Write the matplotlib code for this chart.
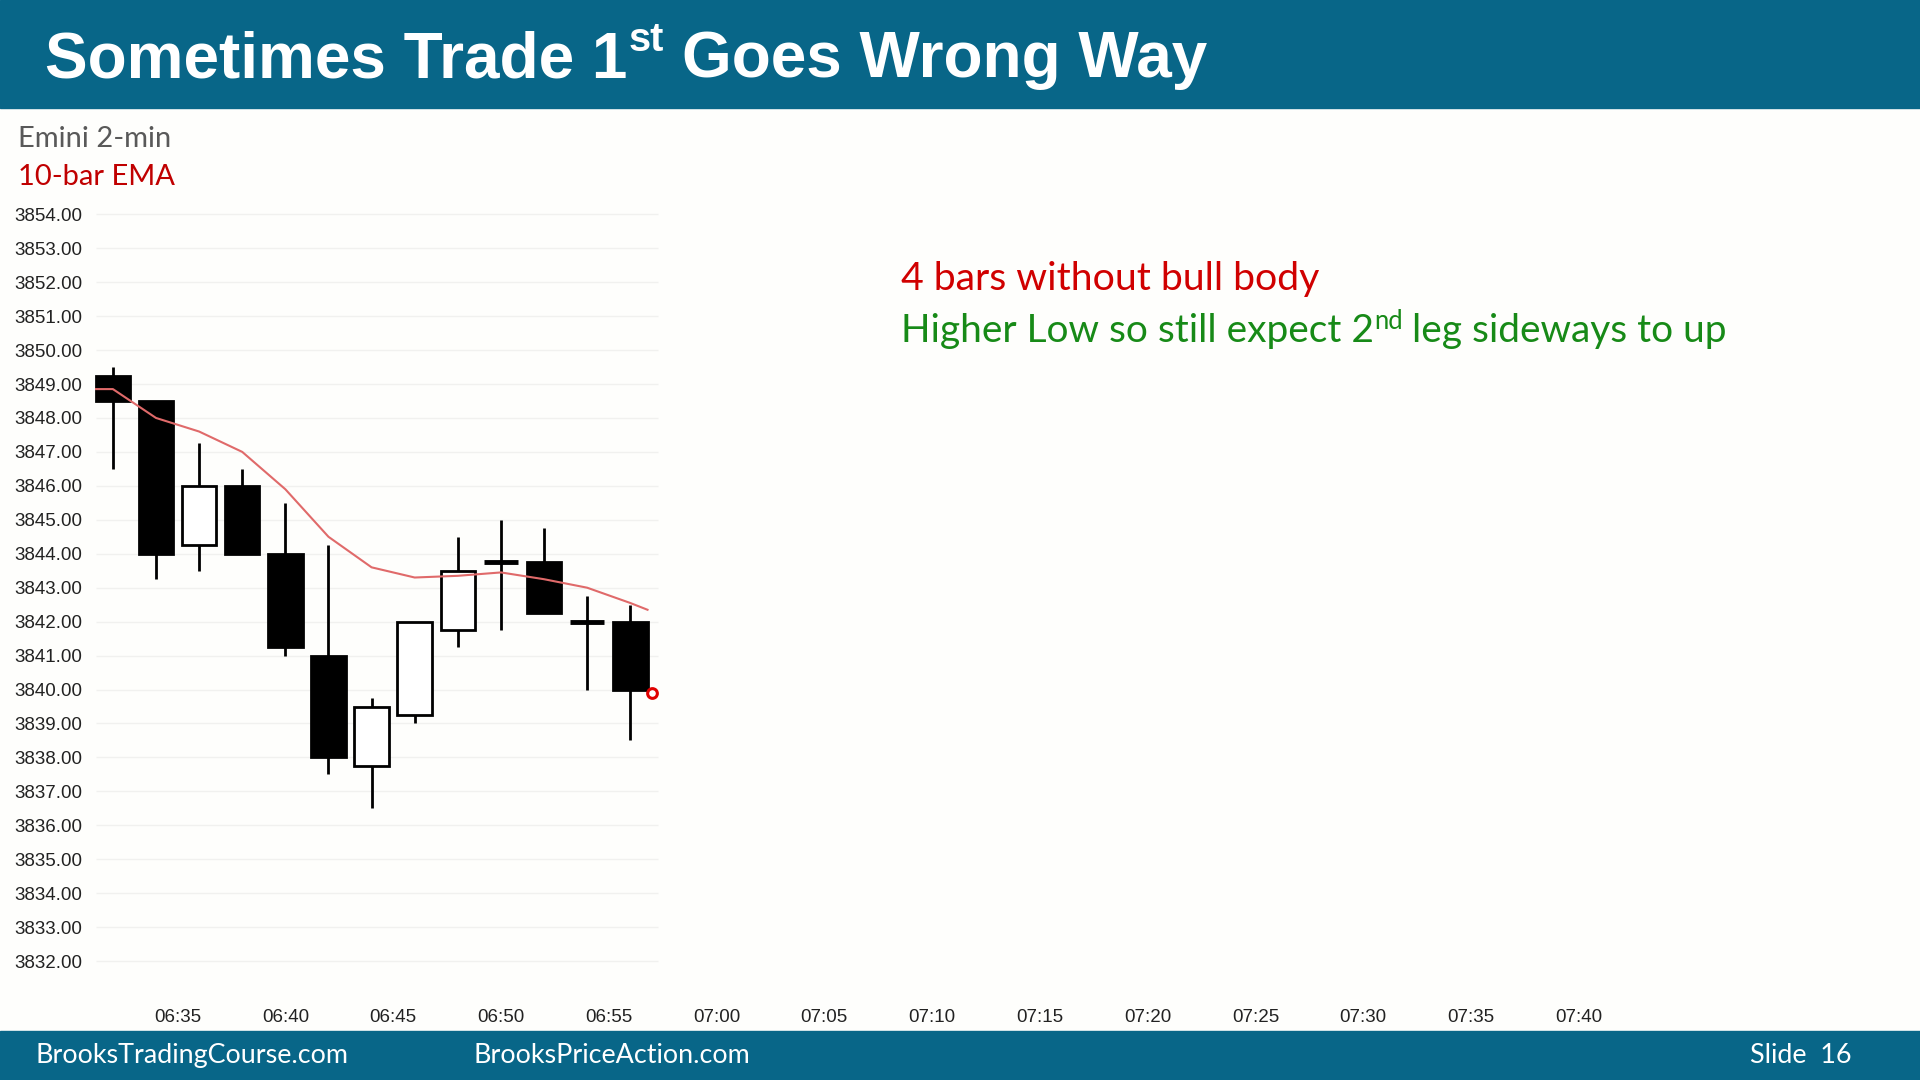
import matplotlib
matplotlib.use('Agg')
import matplotlib.pyplot as plt
from matplotlib.patches import Rectangle

# bar data (Emini 2-min)
times = ['06:32', '06:34', '06:36', '06:38', '06:40', '06:42', '06:44',
         '06:46', '06:48', '06:50', '06:52', '06:54', '06:56']
opens = [3849.25, 3848.50, 3844.25, 3846.00, 3844.00, 3841.00, 3837.75,
         3839.25, 3841.75, 3843.75, 3843.75, 3842.00, 3842.00]
highs = [3849.50, 3848.50, 3847.25, 3846.50, 3845.50, 3844.25, 3839.75,
         3842.00, 3844.50, 3845.00, 3844.75, 3842.75, 3842.50]
lows = [3846.50, 3843.25, 3843.50, 3844.00, 3841.00, 3837.50, 3836.50,
        3839.00, 3841.25, 3841.75, 3842.25, 3840.00, 3838.50]
closes = [3848.50, 3844.00, 3846.00, 3844.00, 3841.25, 3838.00, 3839.50,
          3842.00, 3843.50, 3843.75, 3842.25, 3842.00, 3840.00]
ema = [3848.85, 3848.00, 3847.60, 3847.00, 3845.90, 3844.50, 3843.60,
       3843.30, 3843.35, 3843.45, 3843.25, 3843.00, 3842.55]
ema_end = 3842.35
entry_time, entry_price = '06:57', 3839.90

price_ticks = list(range(3832, 3855))
time_ticks = ['06:35', '06:40', '06:45', '06:50', '06:55', '07:00', '07:05',
              '07:10', '07:15', '07:20', '07:25', '07:30', '07:35', '07:40']


def to_min(s):
    h, m = s.split(':')
    return (int(h) - 6) * 60 + int(m)


W, H = 1920, 1080
BAND = '#086688'
fig = plt.figure(figsize=(19.2, 10.8), dpi=100, facecolor='#fefefc')

# header / footer bands
fig.patches.append(Rectangle((0, 1 - 108 / H), 1, 108 / H, transform=fig.transFigure,
                             color=BAND, zorder=0))
fig.patches.append(Rectangle((0, 0), 1, 49 / H, transform=fig.transFigure,
                             color=BAND, zorder=0))

ax = fig.add_axes([95 / W, 1 - 990 / H, (1900 - 95) / W, (990 - 200) / H])
ax.set_facecolor('none')
for sp in ax.spines.values():
    sp.set_visible(False)

x = [to_min(t) for t in times]
ax.set_xlim(31.17, 114.9)
ax.set_ylim(3831.15, 3854.42)

# faint grid only over the bar area
ax.hlines(price_ticks, 31.2, 57.3, color='#f1f1ef', lw=1, zorder=0)

# wicks
ax.vlines(x, lows, highs, color='black', lw=2, zorder=2)

# bodies
bw = 1.6
for xi, o, c in zip(x, opens, closes):
    if o == c:
        ax.hlines(o, xi - bw / 2, xi + bw / 2, color='black', lw=3.5, zorder=3)
    else:
        face = 'black' if c < o else 'white'
        ax.bar(xi, abs(c - o), bottom=min(o, c), width=bw, color=face,
               edgecolor='black', linewidth=2, zorder=3)

# EMA line, drawn from left edge of first bar to right edge of last bar
ex = [x[0] - bw / 2] + x + [x[-1] + bw / 2]
ey = [ema[0]] + ema + [ema_end]
ax.plot(ex, ey, color='#e06a6a', lw=1.5, zorder=4)

# entry marker
ax.plot(to_min(entry_time), entry_price, 'o', ms=7, mfc='white', mec='#e00000',
        mew=2.2, zorder=5)

ax.set_yticks(price_ticks)
ax.set_yticklabels([f'{p:.2f}' for p in price_ticks])
ax.set_xticks([to_min(t) for t in time_ticks])
ax.set_xticklabels(time_ticks)
ax.tick_params(length=0, labelsize=13.5, labelcolor='#222222', pad=9)
ax.tick_params(axis='x', pad=14)
for lab in ax.get_xticklabels() + ax.get_yticklabels():
    lab.set_fontfamily('Liberation Sans')

renderer = fig.canvas.get_renderer()


def put_runs(x0, y0, runs, **kw):
    # runs: (text, fontsize, rise_in_em, gap_before_in_em)
    xx = x0
    for s, size, rise, gap in runs:
        xx += gap * size * 100 / 72 / W
        t = fig.text(xx, y0 + rise * size * 100 / 72 / H, s, fontsize=size,
                     va='baseline', ha='left', **kw)
        bb = t.get_window_extent(renderer=renderer)
        xx = bb.x1 / W


# title
ts = 46
put_runs(45 / W, 1 - 77 / H,
         [('Sometimes Trade 1', ts, 0, 0), ('st', ts * 0.62, 0.66, 0.03),
          ('Goes Wrong Way', ts, 0, 0.28)],
         color='white', fontweight='bold', family='Liberation Sans')

# chart labels
fig.text(18 / W, 1 - 147 / H, 'Emini 2-min', fontsize=21, color='#595959',
         family='Lato', va='baseline')
fig.text(18 / W, 1 - 185 / H, '10-bar EMA', fontsize=21, color='#c00000',
         family='Lato', va='baseline')

# comments
fig.text(901 / W, 1 - 290 / H, '4 bars without bull body', fontsize=28.3,
         color='#d00000', family='Lato', va='baseline')
cs = 28
put_runs(901 / W, 1 - 342 / H,
         [('Higher Low so still expect 2', cs, 0, 0), ('nd', cs * 0.66, 0.5, 0.02),
          ('leg sideways to up', cs, 0, 0.22)],
         color='#178a17', family='Lato')

# footer
fs = 19.4
fig.text(35 / W, 1 - 1063 / H, 'BrooksTradingCourse.com', fontsize=fs,
         color='white', family='Lato', va='baseline')
fig.text(474 / W, 1 - 1063 / H, 'BrooksPriceAction.com', fontsize=fs,
         color='white', family='Lato', va='baseline')
fig.text(1851 / W, 1 - 1063 / H, 'Slide  16', fontsize=fs,
         color='white', family='Lato', va='baseline', ha='right')

fig.savefig('out.png', dpi=100, facecolor=fig.get_facecolor())
